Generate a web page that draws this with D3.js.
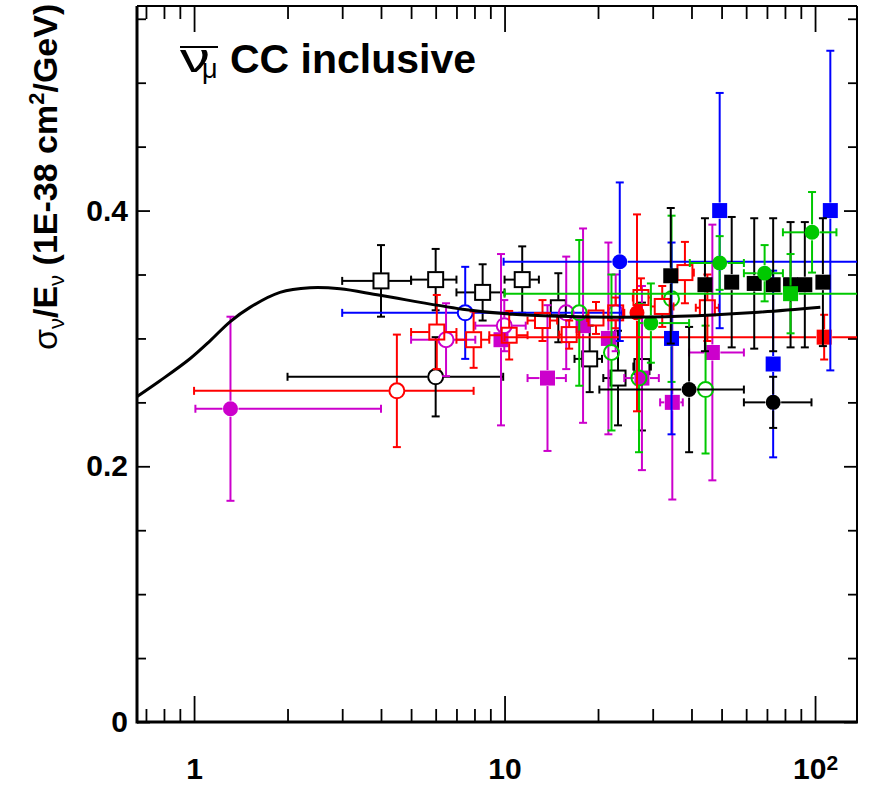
<!DOCTYPE html>
<html>
<head>
<meta charset="utf-8">
<script src="https://cdn.jsdelivr.net/npm/d3@7"></script>
<style>
  html, body { margin: 0; padding: 0; background: #fff; }
  svg { display: block; }
  text { font-family: "Liberation Sans", Arial, Helvetica, sans-serif; }
</style>
</head>
<body>
<div id="chart"></div>
<script>
// each point: [E (GeV), E bin low, E bin high, sigma/E, error]
const blackOpenSquares = [
  [4.0, 3.0, 5.0, 0.345, 0.028],
  [6.0, 5.0, 7.0, 0.346, 0.024],
  [8.5, 7.0, 10.0, 0.336, 0.022],
  [11.4, 10.0, 12.9, 0.346, 0.026],
  [14.9, null, null, 0.324, 0.027],
  [18.8, 16.8, 20.6, 0.284, 0.026],
  [23.2, 20.8, 24.6, 0.269, 0.037],
  [27.7, 26.0, 29.6, 0.278, 0.050]
];
const blackOpenCircles = [[6.0, 2.0, 9.9, 0.270, 0.031]];
const blackFilledCircles = [
  [39.3, 20.2, 59.0, 0.260, 0.049],
  [73.3, 59.0, 97.4, 0.250, 0.020]
];
const blackFilledSquares = [
  [34.3, null, null, 0.349, 0.053],
  [44.2, null, null, 0.342, 0.052],
  [53.9, null, null, 0.344, 0.051],
  [63.7, null, null, 0.343, 0.051],
  [73.3, null, null, 0.342, 0.052],
  [83.4, null, null, 0.342, 0.049],
  [92.7, null, null, 0.342, 0.049],
  [106.0, null, null, 0.344, 0.050]
];
const blueOpenCircles = [[7.47, 3.0, 23.9, 0.320, 0.036]];
const blueFilledCircles = [[23.5, 9.93, 250, 0.360, 0.062]];
const blueFilledSquares = [
  [34.5, null, null, 0.300, 0.075],
  [49.3, null, null, 0.400, 0.092],
  [73.3, null, null, 0.280, 0.073],
  [112.0, null, null, 0.400, 0.125]
];
const redOpenCircles = [[4.5, 1.0, 7.95, 0.259, 0.044]];
const redOpenSquares = [
  [6.05, 5.0, 7.0, 0.305, 0.029],
  [7.95, 7.0, 8.93, 0.299, 0.022],
  [10.35, 8.93, 11.86, 0.3025, 0.019],
  [13.25, 11.86, 14.77, 0.314, 0.016],
  [16.15, 15.0, 17.4, 0.303, 0.011],
  [19.7, 18.45, 20.9, 0.316, 0.0125],
  [22.8, 21.5, 24.3, 0.320, 0.012],
  [27.5, 25.9, 29.6, 0.332, 0.015],
  [32.2, 29.6, 35.0, 0.325, 0.016],
  [38.1, 35.7, 40.7, 0.3515, 0.024],
  [45.0, 41.3, 49.0, 0.324, 0.026]
];
const redFilledCircles = [[26.7, null, null, 0.320, 0.077]];
const redFilledSquares = [[107.0, 10.0, 250, 0.301, 0.0175]];
const magentaFilledCircles = [[1.31, 1.01, 4.0, 0.245, 0.072]];
const magentaOpenCircles = [
  [6.48, 5.0, 8.05, 0.299, 0.0285],
  [9.98, 8.05, 11.7, 0.310, 0.020],
  [15.8, null, null, 0.320, 0.044],
  [22.8, null, null, 0.320, 0.030]
];
const magentaFilledSquares = [
  [9.74, null, null, 0.299, 0.067],
  [13.75, 11.86, 15.76, 0.269, 0.057],
  [17.9, null, null, 0.310, 0.076],
  [21.6, null, null, 0.300, 0.075],
  [27.7, 24.3, 31.4, 0.269, 0.072],
  [34.7, 31.7, 37.5, 0.250, 0.076],
  [46.7, 39.3, 59.0, 0.289, 0.100]
];
const greenOpenCircles = [
  [17.4, null, null, 0.320, 0.057],
  [22.1, null, null, 0.289, 0.061],
  [27.1, null, null, 0.269, 0.058],
  [34.5, null, null, 0.331, 0.065],
  [44.4, null, null, 0.260, 0.050]
];
const greenFilledCircles = [
  [29.6, 27.1, 39.3, 0.312, 0.031],
  [49.3, 39.5, 59.0, 0.359, 0.021],
  [68.8, 59.0, 78.8, 0.351, 0.022],
  [97.8, 78.8, 117.2, 0.383, 0.0315]
];
const greenFilledSquares = [[83.4, 10.0, 250, 0.335, 0.031]];

// model prediction
const curveE = [0.654, 0.777, 0.970, 1.126, 1.305, 1.514, 1.891, 2.362, 2.951, 3.97, 7.32, 10.6, 14.97, 23.4, 36.5, 65.7, 104];
const curveV = [0.2544, 0.2669, 0.2841, 0.2981, 0.3130, 0.3243, 0.3360, 0.3396, 0.3388, 0.3337, 0.3229, 0.3189, 0.3173, 0.3166, 0.3173, 0.3205, 0.3244];

const xMajor = [1, 10, 100];
const xMinor = [0.7, 0.8, 0.9, 2, 3, 4, 5, 6, 7, 8, 9, 20, 30, 40, 50, 60, 70, 80, 90];
const yMajor = [0, 0.2, 0.4];
const yMinor = [0.05, 0.1, 0.15, 0.25, 0.3, 0.35, 0.45, 0.5, 0.55];

const BLACK = "#000000", RED = "#ff0000", BLUE = "#0000ff", GREEN = "#00c800", MAGENTA = "#cc00cc";

const series = [
  { data: magentaFilledCircles, color: MAGENTA, shape: "circle", filled: true },
  { data: redOpenCircles, color: RED, shape: "circle", filled: false },
  { data: blackOpenSquares, color: BLACK, shape: "square", filled: false },
  { data: blackOpenCircles, color: BLACK, shape: "circle", filled: false },
  { data: blueOpenCircles, color: BLUE, shape: "circle", filled: false },
  { data: magentaOpenCircles, color: MAGENTA, shape: "circle", filled: false },
  { data: magentaFilledSquares, color: MAGENTA, shape: "square", filled: true },
  { data: greenOpenCircles, color: GREEN, shape: "circle", filled: false },
  { data: redOpenSquares, color: RED, shape: "square", filled: false },
  { data: redFilledCircles, color: RED, shape: "circle", filled: true },
  { data: redFilledSquares, color: RED, shape: "square", filled: true },
  { data: blueFilledCircles, color: BLUE, shape: "circle", filled: true },
  { data: blueFilledSquares, color: BLUE, shape: "square", filled: true },
  { data: blackFilledSquares, color: BLACK, shape: "square", filled: true },
  { data: blackFilledCircles, color: BLACK, shape: "circle", filled: true },
  { data: greenFilledCircles, color: GREEN, shape: "circle", filled: true },
  { data: greenFilledSquares, color: GREEN, shape: "square", filled: true }
];

const width = 869, height = 785;
const frame = { left: 137, right: 857, top: 6, bottom: 722 };

const x = d3.scaleLog().domain([0.655, 136.5]).range([frame.left, frame.right]);
const y = d3.scaleLinear().domain([0, 0.56]).range([frame.bottom, frame.top]);

const svg = d3.select("#chart").append("svg")
  .attr("width", width).attr("height", height);

svg.append("defs").append("clipPath").attr("id", "frameClip")
  .append("rect")
  .attr("x", frame.left).attr("y", frame.top)
  .attr("width", frame.right - frame.left).attr("height", frame.bottom - frame.top);

// axes (ticks point inwards, ROOT style)
function axisStyle(g) {
  g.select(".domain").remove();
  g.selectAll(".tick line").attr("stroke", "#000").attr("stroke-width", 1.8);
}
const tickFont = g => g.selectAll("text")
  .attr("fill", "#000").style("font-size", "30px").style("font-weight", "bold");

svg.append("g").attr("transform", `translate(0,${frame.bottom})`)
  .call(d3.axisBottom(x).tickValues(xMinor).tickSize(-13).tickFormat(""))
  .call(axisStyle);
svg.append("g").attr("transform", `translate(0,${frame.bottom})`)
  .call(d3.axisBottom(x).tickValues(xMajor).tickSize(-26).tickPadding(36)
    .tickFormat(d => d === 100 ? "10" : d3.format("d")(d)))
  .call(axisStyle).call(tickFont)
  .call(g => g.selectAll(".tick text").filter(d => d === 100)
    .append("tspan").attr("dy", "-0.45em").style("font-size", "21px").text("2"));
svg.append("g").attr("transform", `translate(0,${frame.top})`)
  .call(d3.axisTop(x).tickValues(xMinor).tickSize(-13).tickFormat(""))
  .call(axisStyle);
svg.append("g").attr("transform", `translate(0,${frame.top})`)
  .call(d3.axisTop(x).tickValues(xMajor).tickSize(-26).tickFormat(""))
  .call(axisStyle);

svg.append("g").attr("transform", `translate(${frame.left},0)`)
  .call(d3.axisLeft(y).tickValues(yMinor).tickSize(-9).tickFormat(""))
  .call(axisStyle);
svg.append("g").attr("transform", `translate(${frame.left},0)`)
  .call(d3.axisLeft(y).tickValues(yMajor).tickSize(-13).tickPadding(9)
    .tickFormat(d => d === 0 ? "0" : d3.format(".1f")(d)))
  .call(axisStyle).call(tickFont);
svg.append("g").attr("transform", `translate(${frame.right},0)`)
  .call(d3.axisRight(y).tickValues(yMinor).tickSize(-9).tickFormat(""))
  .call(axisStyle);
svg.append("g").attr("transform", `translate(${frame.right},0)`)
  .call(d3.axisRight(y).tickValues(yMajor).tickSize(-13).tickFormat(""))
  .call(axisStyle);

// frame
svg.append("line").attr("x1", frame.left).attr("x2", frame.right)
  .attr("y1", frame.top).attr("y2", frame.top).attr("stroke", "#000").attr("stroke-width", 2);
svg.append("line").attr("x1", frame.right).attr("x2", frame.right)
  .attr("y1", frame.top).attr("y2", frame.bottom).attr("stroke", "#000").attr("stroke-width", 2);
svg.append("line").attr("x1", frame.left).attr("x2", frame.left)
  .attr("y1", frame.top).attr("y2", frame.bottom + 1.5).attr("stroke", "#000").attr("stroke-width", 3);
svg.append("line").attr("x1", frame.left).attr("x2", frame.right + 1)
  .attr("y1", frame.bottom).attr("y2", frame.bottom).attr("stroke", "#000").attr("stroke-width", 3.2);

// data points with error bars
const plot = svg.append("g").attr("clip-path", "url(#frameClip)");
const half = 8, cap = 4;

function segments(d) {
  const cx = x(d[0]), cy = y(d[3]);
  const out = [];
  if (d[1] != null) {
    const xl = x(d[1]), xr = x(d[2]);
    if (cx - half > xl) out.push([xl, cy, cx - half, cy], [xl, cy - cap, xl, cy + cap]);
    if (xr > cx + half) out.push([cx + half, cy, xr, cy], [xr, cy - cap, xr, cy + cap]);
  }
  const yt = y(d[3] + d[4]), yb = y(d[3] - d[4]);
  if (cy - half > yt) out.push([cx, yt, cx, cy - half], [cx - cap, yt, cx + cap, yt]);
  if (yb > cy + half) out.push([cx, cy + half, cx, yb], [cx - cap, yb, cx + cap, yb]);
  return out;
}

series.forEach(s => {
  const g = plot.append("g");
  g.selectAll("line")
    .data(s.data.flatMap(segments))
    .join("line")
    .attr("x1", d => d[0]).attr("y1", d => d[1])
    .attr("x2", d => d[2]).attr("y2", d => d[3])
    .attr("stroke", s.color).attr("stroke-width", 2);

  const sz = 15;
  if (s.shape === "square") {
    g.selectAll("rect")
      .data(s.data)
      .join("rect")
      .attr("x", d => x(d[0]) - sz / 2).attr("y", d => y(d[3]) - sz / 2)
      .attr("width", sz).attr("height", sz)
      .attr("fill", s.filled ? s.color : "none")
      .attr("stroke", s.color).attr("stroke-width", s.filled ? 0 : 2);
  } else {
    g.selectAll("circle")
      .data(s.data)
      .join("circle")
      .attr("cx", d => x(d[0])).attr("cy", d => y(d[3]))
      .attr("r", 7.5)
      .attr("fill", s.filled ? s.color : "none")
      .attr("stroke", s.color).attr("stroke-width", s.filled ? 0 : 2);
  }
});

// prediction curve
plot.append("path")
  .datum(d3.zip(curveE, curveV))
  .attr("fill", "none").attr("stroke", "#000").attr("stroke-width", 3)
  .attr("d", d3.line().x(d => x(d[0])).y(d => y(d[1])).curve(d3.curveCatmullRom.alpha(0.5)));

// title: anti-nu_mu CC inclusive
const title = svg.append("g");
title.append("text").attr("x", 180).attr("y", 72)
  .attr("textLength", 30).attr("lengthAdjust", "spacingAndGlyphs")
  .style("font-size", "40px").text("ν");
title.append("line").attr("x1", 180).attr("x2", 218).attr("y1", 47).attr("y2", 47)
  .attr("stroke", "#000").attr("stroke-width", 2);
title.append("text").attr("x", 202).attr("y", 78)
  .style("font-size", "27px").text("μ");
title.append("text").attr("x", 230).attr("y", 73)
  .style("font-size", "41px").style("font-weight", "bold").text("CC inclusive");

// y axis title
const yTitle = svg.append("text")
  .attr("transform", "translate(57,350) rotate(-90)")
  .style("font-size", "34px").style("font-weight", "bold");
yTitle.append("tspan").style("font-weight", "normal").text("σ");
yTitle.append("tspan").attr("dy", 7).style("font-size", "22px").style("font-weight", "normal").text("ν");
yTitle.append("tspan").attr("dy", -7).text("/E");
yTitle.append("tspan").attr("dy", 7).style("font-size", "22px").style("font-weight", "normal").text("ν");
yTitle.append("tspan").attr("dy", -7).text(" (1E-38 cm");
yTitle.append("tspan").attr("dy", -13).style("font-size", "22px").text("2");
yTitle.append("tspan").attr("dy", 13).text("/GeV)");
</script>
</body>
</html>
